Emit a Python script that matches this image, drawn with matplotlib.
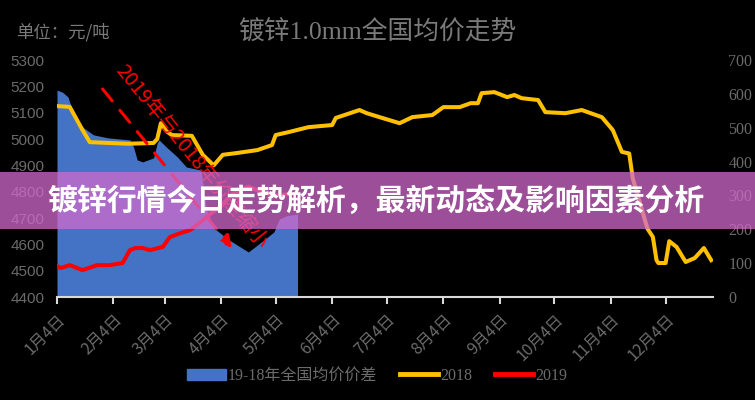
import pandas as pd
import matplotlib.pyplot as plt
from matplotlib.patches import Rectangle, Patch
from matplotlib.lines import Line2D

plt.rcParams['font.family'] = ['Noto Sans CJK SC', 'DejaVu Sans']

# 2018年全国均价（左轴，元/吨）
days_2018 = ['01-04', '01-11', '01-18', '01-22', '02-12', '02-26', '02-28', '03-02', '03-05', '03-08',
             '03-19', '03-25', '03-31', '04-05', '04-13', '04-24', '05-02', '05-04', '05-11', '05-22',
             '06-04', '06-06', '06-19', '06-23', '06-30', '07-11', '07-18', '07-29', '08-04', '08-13',
             '08-19', '08-23', '08-25', '09-01', '09-04', '09-08', '09-12', '09-16', '09-25', '09-29',
             '10-10', '10-19', '10-30', '11-05', '11-10', '11-14', '11-16', '11-24', '11-27', '11-29',
             '11-30', '12-04', '12-06', '12-10', '12-15', '12-20', '12-25', '12-29']
price_2018 = [5125, 5122, 5034, 4988, 4982, 4985, 5000, 5060, 5030, 5015,
              5012, 4940, 4900, 4940, 4947, 4958, 4977, 5015, 5026, 5045,
              5053, 5080, 5110, 5098, 5083, 5060, 5083, 5091, 5121, 5121,
              5136, 5136, 5174, 5178, 5170, 5159, 5167, 5155, 5148, 5102,
              5098, 5110, 5083, 5034, 4951, 4945, 4850, 4660, 4628, 4540,
              4529, 4529, 4612, 4590, 4533, 4548, 4586, 4540]

# 2019年全国均价（左轴）
days_2019 = ['01-04', '01-06', '01-11', '01-18', '01-26', '02-02', '02-09', '02-13', '02-16', '02-20',
             '02-24', '03-03', '03-07', '03-13', '03-18', '03-24', '03-29', '04-04', '04-10', '04-19',
             '04-26', '05-03', '05-10', '05-16']
price_2019 = [4518, 4510, 4521, 4502, 4521, 4521, 4529, 4578, 4586, 4586,
              4578, 4590, 4628, 4643, 4654, 4685, 4715, 4745, 4790, 4819,
              4800, 4785, 4790, 4795]

# 19-18年全国均价价差（右轴）
days_gap = ['01-04', '01-07', '01-10', '01-13', '01-18', '01-24', '02-01', '02-13', '02-15', '02-17',
            '02-20', '02-26', '02-28', '03-01', '03-05', '03-11', '03-16', '03-24', '03-27', '03-31',
            '04-08', '04-19', '04-26', '05-03', '05-06', '05-10', '05-16']
gap = [611, 605, 591, 543, 502, 479, 470, 464, 443, 405,
       399, 411, 455, 464, 443, 414, 384, 375, 260, 204,
       170, 133, 162, 192, 230, 240, 245]

tick_days = ['01-04', '02-04', '03-04', '04-04', '05-04', '06-04',
             '07-04', '08-04', '09-04', '10-04', '11-04', '12-04']
tick_labels = ['1月4日', '2月4日', '3月4日', '4月4日', '5月4日', '6月4日',
               '7月4日', '8月4日', '9月4日', '10月4日', '11月4日', '12月4日']


def to_dates(days):
    return pd.to_datetime(['2018-' + d for d in days])


gray = '#6b6b6b'
serif = ['Liberation Serif', 'Noto Sans CJK SC']

fig = plt.figure(figsize=(7.55, 4), dpi=100, facecolor='black')
ax = fig.add_axes([57 / 755, 1 - 297 / 400, 656 / 755, 237 / 400])
ax2 = ax.twinx()
ax.set_zorder(2)
ax.patch.set_visible(False)

ax2.fill_between(to_dates(days_gap), 0, gap, color='#4472c4', lw=0)
ax.plot(to_dates(days_2018), price_2018, color='#ffc000', lw=2.9, solid_joinstyle='round')
ax.plot(to_dates(days_2019), price_2019, color='#ff0000', lw=2.9, solid_joinstyle='round')

ax.set_xlim(pd.Timestamp('2018-01-04'), pd.Timestamp('2018-12-30'))
ax.set_ylim(4400, 5300)
ax2.set_ylim(0, 700)
ax.set_yticks(range(4400, 5301, 100))
ax2.set_yticks(range(0, 701, 100))
ax.set_xticks(to_dates(tick_days))
ax.set_xticklabels(tick_labels, rotation=45, ha='right', rotation_mode='anchor')

for a in (ax, ax2):
    for s in a.spines.values():
        s.set_visible(False)
ax.spines['bottom'].set_visible(True)
ax.spines['bottom'].set_color('#d9d9d9')
ax.spines['bottom'].set_linewidth(1.5)

ax.tick_params(axis='x', length=5, width=1.5, color='#d9d9d9', labelcolor=gray, labelsize=11.5, pad=5)
ax.tick_params(axis='y', length=0, labelcolor=gray, labelsize=11, pad=9)
ax2.tick_params(axis='y', length=0, labelcolor=gray, labelsize=11.5, pad=11)
for lab in ax.get_yticklabels():
    lab.set_family('Liberation Sans')
for lab in ax2.get_yticklabels():
    lab.set_family('Liberation Serif')

# 标注：价差缩小
ax.annotate('', xy=(pd.Timestamp('2018-04-10'), 4586), xytext=(pd.Timestamp('2018-01-29'), 5190),
            arrowprops=dict(arrowstyle='-|>,head_length=0.7,head_width=0.35', color='#ff0000',
                            lw=2.2, linestyle=(0, (5, 4)), shrinkA=0, shrinkB=0), zorder=5)
ax.text(pd.Timestamp('2018-03-19'), 4932, '2019年与2018年价差缩小', rotation=-51,
        rotation_mode='anchor', ha='center', va='center', color='#ff0000', fontsize=14.5, zorder=6)

fig.text(0.5, 1 - 32 / 400, '镀锌1.0mm全国均价走势', ha='center', va='center',
         fontsize=18.5, color='#7a7a7a', family=serif)
fig.text(16 / 755, 1 - 32 / 400, '单位：元/吨', ha='left', va='center', fontsize=12.5, color='#7a7a7a')

handles = [Patch(color='#4472c4'),
           Line2D([], [], color='#ffc000', lw=3.5),
           Line2D([], [], color='#ff0000', lw=3.5)]
fig.legend(handles, ['19-18年全国均价价差', '2018', '2019'], loc='center',
           bbox_to_anchor=(0.5, 1 - 376 / 400), ncol=3, frameon=False,
           prop={'family': serif, 'size': 11.5}, labelcolor=gray,
           handlelength=2.4, handletextpad=0.15, columnspacing=1.4)

# 顶部横幅
fig.add_artist(Rectangle((0, 1 - 229 / 400), 1, 57 / 400, transform=fig.transFigure,
                         facecolor=(0.82, 0.42, 0.80), alpha=0.75, lw=0, zorder=10))
fig.text(0.4987, 1 - 201 / 400, '镀锌行情今日走势解析，最新动态及影响因素分析',
         ha='center', va='center', color='white', fontsize=21.5, fontweight='bold', zorder=11)

fig.savefig('out.png', dpi=100, facecolor='black')
